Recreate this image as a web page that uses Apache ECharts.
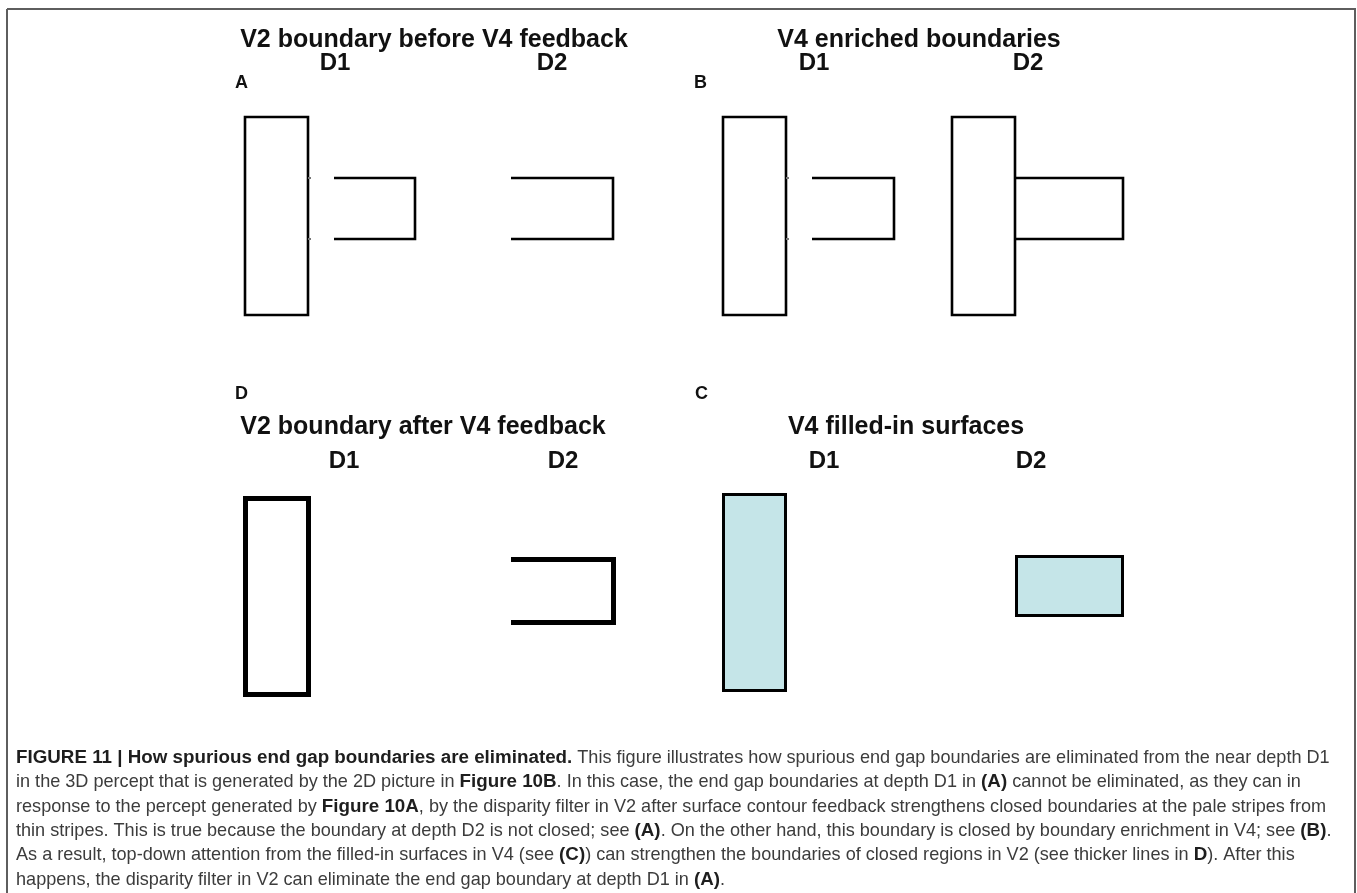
<!DOCTYPE html>
<html>
<head>
<meta charset="utf-8">
<script src="https://cdn.jsdelivr.net/npm/echarts@6/dist/echarts.min.js"></script>
<style>
html,body{margin:0;padding:0;background:#fff;}
#chart{width:1357px;height:893px;}
</style>
</head>
<body>
<div id="chart"></div>
<script>
// ---------- text content ----------
const panelTitles = ['V2 boundary before V4 feedback', 'V4 enriched boundaries', 'V2 boundary after V4 feedback', 'V4 filled-in surfaces'];
const panelLetters = ['A', 'B', 'D', 'C'];
const depthLabels = ['D1', 'D2'];
const captionLines = [
  [['b', 'FIGURE 11 | How spurious end gap boundaries are eliminated.'], ['r', ' This figure illustrates how spurious end gap boundaries are eliminated from the near depth D1']],
  [['r', 'in the 3D percept that is generated by the 2D picture in '], ['b', 'Figure 10B'], ['r', '. In this case, the end gap boundaries at depth D1 in '], ['b', '(A)'], ['r', ' cannot be eliminated, as they can in']],
  [['r', 'response to the percept generated by '], ['b', 'Figure 10A'], ['r', ', by the disparity filter in V2 after surface contour feedback strengthens closed boundaries at the pale stripes from']],
  [['r', 'thin stripes. This is true because the boundary at depth D2 is not closed; see '], ['b', '(A)'], ['r', '. On the other hand, this boundary is closed by boundary enrichment in V4; see '], ['b', '(B)'], ['r', '.']],
  [['r', 'As a result, top-down attention from the filled-in surfaces in V4 (see '], ['b', '(C)'], ['r', ') can strengthen the boundaries of closed regions in V2 (see thicker lines in '], ['b', 'D'], ['r', '). After this']],
  [['r', 'happens, the disparity filter in V2 can eliminate the end gap boundary at depth D1 in '], ['b', '(A)'], ['r', '.']]
];

// ---------- shape geometry ----------
const frame = [[7, 9], [1355, 9], [1355, 905], [7, 905], [7, 9]];
// Panel A: V2 boundary before V4 feedback
const aRectD1 = [245, 117, 308, 315];
const aBracketD1 = [[334, 178], [415, 178], [415, 239], [334, 239]];
const aBracketD2 = [[511, 178], [613, 178], [613, 239], [511, 239]];
const aGapMarks = [[[308, 178], [311, 178]], [[308, 239], [311, 239]]];
// Panel B: V4 enriched boundaries
const bRectD1 = [723, 117, 786, 315];
const bBracketD1 = [[812, 178], [894, 178], [894, 239], [812, 239]];
const bGapMarks = [[[786, 178], [789, 178]], [[786, 239], [789, 239]]];
const bRectD2 = [952, 117, 1015, 315];
const bBoxD2 = [[1015, 178], [1123, 178], [1123, 239], [1015, 239]];
// Panel D: V2 boundary after V4 feedback
const dRectD1 = [245.5, 498.5, 308.5, 694.5];
const dBracketD2 = [[511, 559.5], [613.5, 559.5], [613.5, 622.5], [511, 622.5]];
// Panel C: V4 filled-in surfaces
const cRectD1 = [723.5, 494.5, 785.5, 690.5];
const cRectD2 = [1016.5, 556.5, 1122.5, 615.5];

// ---------- styles ----------
const FONT = "'Liberation Sans', Arial, Helvetica, sans-serif";
const INK = '#111';
const FILL = '#c5e5e8';

function lineSeries(points, width, color) {
  return {
    type: 'line', data: points, symbol: 'none', showSymbol: false, silent: true,
    animation: false, clip: true,
    lineStyle: { color: color || '#000', width: width, cap: 'butt', join: 'miter' }
  };
}
function rectSeries(rects, width, fill) {
  return {
    type: 'custom', data: rects, silent: true, animation: false,
    renderItem: function (params, api) {
      const p0 = api.coord([api.value(0), api.value(1)]);
      const p1 = api.coord([api.value(2), api.value(3)]);
      return {
        type: 'rect',
        shape: { x: p0[0], y: p0[1], width: p1[0] - p0[0], height: p1[1] - p0[1] },
        style: { fill: fill || 'none', stroke: '#000', lineWidth: width, lineJoin: 'miter' }
      };
    }
  };
}

const series = [
  lineSeries(frame, 2, '#5e5e5e'),
  // A
  rectSeries([aRectD1], 2.6),
  lineSeries(aBracketD1, 2.6),
  lineSeries(aBracketD2, 2.6),
  lineSeries(aGapMarks[0], 2, '#777'),
  lineSeries(aGapMarks[1], 2, '#777'),
  // B
  rectSeries([bRectD1, bRectD2], 2.6),
  lineSeries(bBracketD1, 2.6),
  lineSeries(bGapMarks[0], 2, '#777'),
  lineSeries(bGapMarks[1], 2, '#777'),
  lineSeries(bBoxD2, 2.6),
  // D
  rectSeries([dRectD1], 5),
  lineSeries(dBracketD2, 5),
  // C
  rectSeries([cRectD1, cRectD2], 3, FILL)
];

// ---------- text layout ----------
const graphic = [];
function txt(text, x, y, size, align) {
  graphic.push({
    type: 'text', x: x, y: y, silent: true,
    style: { text: text, font: 'bold ' + size + 'px ' + FONT, fill: INK, textAlign: align || 'center', textVerticalAlign: 'middle' }
  });
}
// row 1
txt(panelTitles[0], 434, 40, 25);
txt(panelTitles[1], 919, 40, 25);
txt(depthLabels[0], 335, 63, 24); txt(depthLabels[1], 552, 63, 24);
txt(depthLabels[0], 814, 63, 24); txt(depthLabels[1], 1028, 63, 24);
txt(panelLetters[0], 235, 83, 18, 'left');
txt(panelLetters[1], 694, 83, 18, 'left');
// row 2
txt(panelLetters[2], 235, 394, 18, 'left');
txt(panelLetters[3], 695, 394, 18, 'left');
txt(panelTitles[2], 423, 427, 25);
txt(panelTitles[3], 906, 427, 25);
txt(depthLabels[0], 344, 461, 24); txt(depthLabels[1], 563, 461, 24);
txt(depthLabels[0], 824, 461, 24); txt(depthLabels[1], 1031, 461, 24);

// caption
captionLines.forEach(function (segs, i) {
  const text = segs.map(function (s) { return '{' + s[0] + '|' + s[1] + '}'; }).join('');
  graphic.push({
    type: 'text', x: 16, y: 758 + i * 24.3, silent: true,
    style: {
      text: text, textAlign: 'left', textVerticalAlign: 'middle',
      rich: {
        b: { font: 'bold 18.8px ' + FONT, fill: '#1e1e1e' },
        r: { font: '18.1px ' + FONT, fill: '#3c3c3c' }
      }
    }
  });
});

const chart = echarts.init(document.getElementById('chart'), null, { renderer: 'canvas' });
chart.setOption({
  animation: false,
  backgroundColor: '#ffffff',
  grid: { left: 0, top: 0, right: 0, bottom: 0, containLabel: false },
  xAxis: { type: 'value', min: 0, max: 1357, show: false },
  yAxis: { type: 'value', min: 0, max: 893, inverse: true, show: false },
  series: series,
  graphic: graphic
});
</script>
</body>
</html>
